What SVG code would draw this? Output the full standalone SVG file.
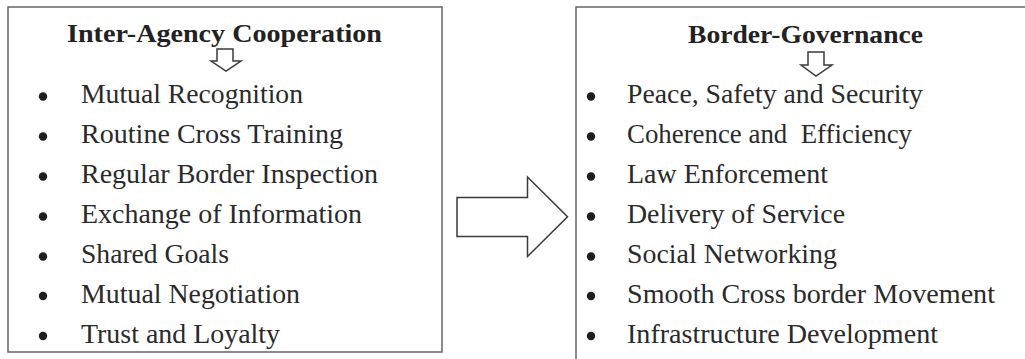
<svg xmlns="http://www.w3.org/2000/svg" width="1025" height="359" viewBox="0 0 1025 359">
<style>
.box{fill:#fff;stroke:#6e6e6e;stroke-width:1.6}
.arr{fill:#fff;stroke:#3a3a3a;stroke-width:1.5;stroke-linejoin:miter}
.title{font-weight:bold;font-size:26px;fill:#222}
.item{font-size:27px;fill:#2a2a2a}
.dot{fill:#1e1e1e}
</style>
<rect width="1025" height="359" fill="#fff"/>
<g id="inter-agency" font-family="Liberation Serif, serif">
<rect class="box" x="8" y="7" width="434" height="345"/>
<text class="title" x="67" y="42" textLength="315" lengthAdjust="spacingAndGlyphs">Inter-Agency Cooperation</text>
<polygon class="arr" points="217,49 233,49 233,61 241,61 226,71 211,61 217,61"/>
<g class="dot"><circle cx="43" cy="96.5" r="4.2"/><circle cx="43" cy="136.5" r="4.2"/><circle cx="43" cy="176.5" r="4.2"/><circle cx="43" cy="216.5" r="4.2"/><circle cx="43" cy="256.5" r="4.2"/><circle cx="43" cy="296" r="4.2"/><circle cx="43" cy="336" r="4.2"/></g>
<text class="item" x="81" y="103.3" textLength="222" lengthAdjust="spacingAndGlyphs">Mutual Recognition</text>
<text class="item" x="81" y="143.2" textLength="262" lengthAdjust="spacingAndGlyphs">Routine Cross Training</text>
<text class="item" x="81" y="183.1" textLength="297" lengthAdjust="spacingAndGlyphs">Regular Border Inspection</text>
<text class="item" x="81" y="223" textLength="281" lengthAdjust="spacingAndGlyphs">Exchange of Information</text>
<text class="item" x="81" y="262.9" textLength="148" lengthAdjust="spacingAndGlyphs">Shared Goals</text>
<text class="item" x="81" y="302.8" textLength="219" lengthAdjust="spacingAndGlyphs">Mutual Negotiation</text>
<text class="item" x="81" y="342.7" textLength="199" lengthAdjust="spacingAndGlyphs">Trust and Loyalty</text>
</g>
<g id="connectors">
<polygon class="arr" points="457,197.5 527.5,197.5 527.5,177 567.5,216.8 527.5,256.5 527.5,236.5 457,236.5"/>
</g>
<g id="border-governance" font-family="Liberation Serif, serif">
<rect class="box" x="576" y="7" width="460" height="370"/>
<text class="title" x="688" y="43" textLength="235" lengthAdjust="spacingAndGlyphs">Border-Governance</text>
<polygon class="arr" points="808,52 824,52 824,65 832,65 816,76 801,65 808,65"/>
<g class="dot"><circle cx="591" cy="96.5" r="4.2"/><circle cx="591" cy="136.5" r="4.2"/><circle cx="591" cy="176.5" r="4.2"/><circle cx="591" cy="216.5" r="4.2"/><circle cx="591" cy="256.5" r="4.2"/><circle cx="591" cy="296" r="4.2"/><circle cx="591" cy="336" r="4.2"/></g>
<text class="item" x="627" y="103.3" textLength="296" lengthAdjust="spacingAndGlyphs">Peace, Safety and Security</text>
<text class="item" x="627" y="143.2" textLength="285" lengthAdjust="spacingAndGlyphs" xml:space="preserve">Coherence and  Efficiency</text>
<text class="item" x="627" y="183.1" textLength="201" lengthAdjust="spacingAndGlyphs">Law Enforcement</text>
<text class="item" x="627" y="223" textLength="218" lengthAdjust="spacingAndGlyphs">Delivery of Service</text>
<text class="item" x="627" y="262.9" textLength="210" lengthAdjust="spacingAndGlyphs">Social Networking</text>
<text class="item" x="627" y="302.8" textLength="368" lengthAdjust="spacingAndGlyphs">Smooth Cross border Movement</text>
<text class="item" x="627" y="342.7" textLength="311" lengthAdjust="spacingAndGlyphs">Infrastructure Development</text>
</g>
</svg>
